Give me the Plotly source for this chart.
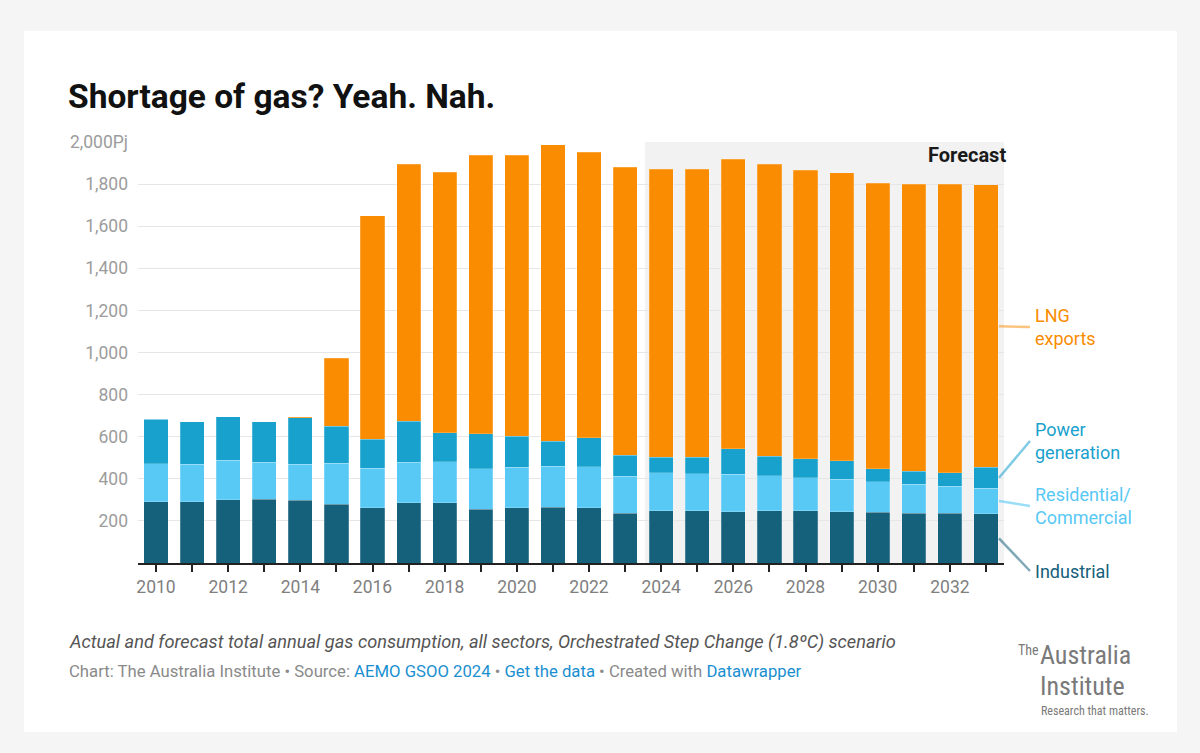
import plotly.graph_objects as go

years = list(range(2010, 2034))
industrial = [290, 290, 300, 303, 297, 279, 263, 286, 287, 256, 262, 265, 262, 237, 248, 248, 244, 248, 248, 244, 241, 237, 237, 233]
residential = [181, 178, 187, 175, 173, 194, 186, 192, 194, 192, 194, 194, 195, 174, 181, 177, 177, 166, 158, 154, 145, 136, 128, 123]
power = [213, 202, 208, 192, 219, 176, 138, 195, 138, 166, 146, 119, 137, 100, 73, 77, 122, 94, 89, 88, 62, 62, 64, 98]
lng = [0, 0, 0, 0, 6, 324, 1063, 1222, 1237, 1324, 1336, 1408, 1358, 1370, 1368, 1368, 1375, 1387, 1370, 1368, 1357, 1365, 1371, 1342]

series_names = ["Industrial", "Residential/<br>Commercial", "Power<br>generation", "LNG<br>exports"]
series_vals = [industrial, residential, power, lng]
colors = ["#15607a", "#58c8f5", "#18a1cd", "#f98c00"]
leader_colors = ["rgba(21,96,122,0.55)", "rgba(88,200,245,0.6)", "rgba(24,161,205,0.55)", "rgba(249,140,0,0.5)"]

y_ticks = [200, 400, 600, 800, 1000, 1200, 1400, 1600, 1800, 2000]
y_ticktext = ["200", "400", "600", "800", "1,000", "1,200", "1,400", "1,600", "1,800", "2,000Pj"]
x_ticktext = [str(y) if y % 2 == 0 else "" for y in years]
forecast_start = 2023.55

FONT = "Roboto, 'Noto Sans', sans-serif"

fig = go.Figure()
for name, vals, c in zip(series_names, series_vals, colors):
    fig.add_trace(go.Bar(x=years, y=vals, name=name, marker=dict(color=c, line=dict(width=0.6, color="rgba(255,255,255,0.35)")),
                         hoverinfo="skip"))

# geometry helpers (pixel -> paper)
L, R, T, B = 138, 1004, 142, 563
W, H = R - L, B - T
def px(xp):
    return (xp - L) / W
def py(yp):
    return (B - yp) / H

shapes = []
# white card
shapes.append(dict(type="rect", xref="paper", yref="paper", x0=px(24), x1=px(1177), y0=py(732), y1=py(31),
                   fillcolor="white", line=dict(width=0), layer="below"))
# forecast shading
shapes.append(dict(type="rect", xref="x", yref="y", x0=forecast_start, x1=years[-1] + 0.5, y0=0, y1=2000,
                   fillcolor="#f2f2f2", line=dict(width=0), layer="below"))

annotations = []
# leader lines + labels
label_y_px = [571, 506, 441, 327]
cum = 0
for i, (name, vals) in enumerate(zip(series_names, series_vals)):
    last = vals[-1]
    mid = cum + last / 2
    cum += last
    shapes.append(dict(type="line", xref="paper", yref="paper", x0=px(999), y0=mid / 2000,
                       x1=px(1030), y1=py(label_y_px[i]), line=dict(color=leader_colors[i], width=2.5)))
    annotations.append(dict(text=name, xref="paper", yref="paper", x=px(1033), y=py(label_y_px[i]),
                            xanchor="left", yanchor="middle", align="left", showarrow=False,
                            font=dict(family=FONT, size=18, color=colors[i])))

annotations.append(dict(text="<b>Forecast</b>", xref="paper", yref="paper", x=px(1008), y=py(155),
                        xanchor="right", yanchor="middle", showarrow=False,
                        font=dict(family=FONT, size=20, color="#1a1a1a")))

annotations.append(dict(text="<i>Actual and forecast total annual gas consumption, all sectors, Orchestrated Step Change (1.8ºC) scenario</i>",
                        xref="paper", yref="paper", x=px(67), y=py(642), xanchor="left", yanchor="middle",
                        showarrow=False, font=dict(family=FONT, size=18.2, color="#555555")))
link = "#1a8fd0"
src = ("Chart: The Australia Institute • Source: <span style='color:%s'>AEMO GSOO 2024</span> • "
       "<span style='color:%s'>Get the data</span> • Created with <span style='color:%s'>Datawrapper</span>") % (link, link, link)
annotations.append(dict(text=src, xref="paper", yref="paper", x=px(67), y=py(671), xanchor="left", yanchor="middle",
                        showarrow=False, font=dict(family=FONT, size=16.7, color="#8a8a8a")))

# logo
LOGO = "'Liberation Sans Narrow', 'Roboto Condensed', 'DejaVu Sans Condensed', Roboto, sans-serif"
logo_c = "#7a7a7a"
annotations.append(dict(text="The", xref="paper", yref="paper", x=px(1016), y=py(650), xanchor="left", yanchor="middle",
                        showarrow=False, font=dict(family=LOGO, size=14, color=logo_c)))
annotations.append(dict(text="Australia", xref="paper", yref="paper", x=px(1038), y=py(655), xanchor="left", yanchor="middle",
                        showarrow=False, font=dict(family=LOGO, size=26, color=logo_c)))
annotations.append(dict(text="Institute", xref="paper", yref="paper", x=px(1038), y=py(686), xanchor="left", yanchor="middle",
                        showarrow=False, font=dict(family=LOGO, size=26, color=logo_c)))
annotations.append(dict(text="Research that matters.", xref="paper", yref="paper", x=px(1039), y=py(711), xanchor="left", yanchor="middle",
                        showarrow=False, font=dict(family=LOGO, size=12, color=logo_c)))

fig.update_layout(
    width=1200, height=753,
    margin=dict(l=L, r=1200 - R, t=T, b=753 - B),
    paper_bgcolor="#f5f5f5", plot_bgcolor="rgba(0,0,0,0)",
    barmode="stack", bargap=0.33, showlegend=False,
    title=dict(text="<b>Shortage of gas? Yeah. Nah.</b>", x=68 / 1200, xanchor="left", y=1 - 96 / 753, yanchor="middle",
               font=dict(family=FONT, size=33.5, color="#111111")),
    font=dict(family=FONT),
    xaxis=dict(range=[years[0] - 0.5, years[-1] + 0.5], tickmode="array", tickvals=years, ticktext=x_ticktext,
               ticks="outside", ticklen=7, tickwidth=1.5, tickcolor="#222222", showline=True, linecolor="#222222",
               linewidth=1.5, showgrid=False, zeroline=False, tickfont=dict(family=FONT, size=17.5, color="#808080")),
    yaxis=dict(range=[0, 2000], tickmode="array", tickvals=y_ticks, ticktext=y_ticktext, showgrid=True,
               gridcolor="#e6e6e6", gridwidth=1, zeroline=False, showline=False, ticks="",
               ticklabelstandoff=9, tickfont=dict(family=FONT, size=17.5, color="#9c9c9c")),
    shapes=shapes, annotations=annotations,
)

fig.write_html("out.html", config={"displayModeBar": False},
               post_script="document.body.style.margin='0';document.body.style.background='#f5f5f5';")
